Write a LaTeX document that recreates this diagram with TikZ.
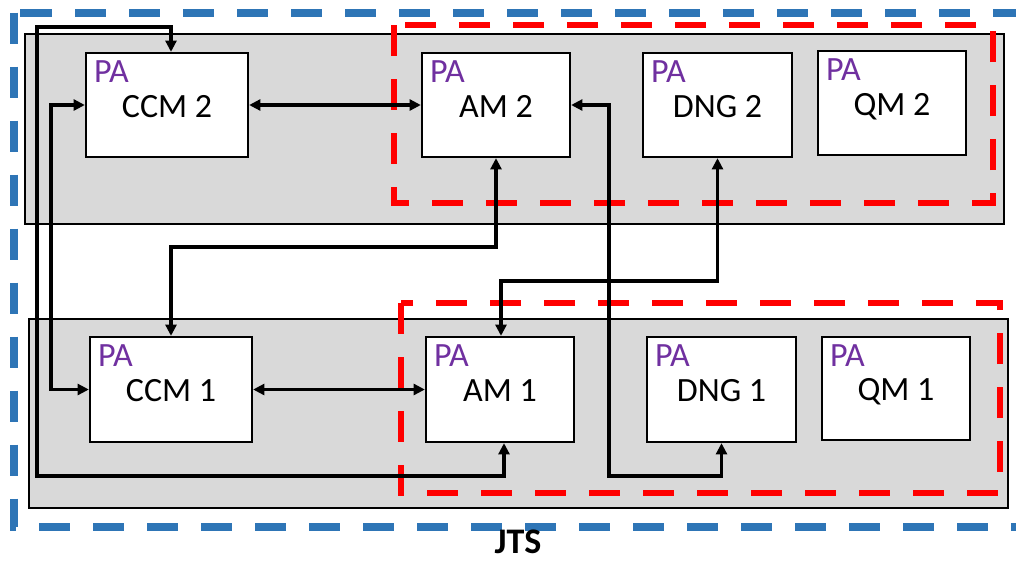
\documentclass[tikz,border=0pt]{standalone}
\usepackage{fontspec}
\setmainfont{Carlito}
\usetikzlibrary{arrows.meta,calc}
\definecolor{jtsblue}{HTML}{2E75B6}
\definecolor{pared}{HTML}{FF0000}
\definecolor{papurple}{HTML}{7030A0}
\definecolor{panelgray}{HTML}{D9D9D9}
\begin{document}
\begin{tikzpicture}[x=0.75pt,y=-0.75pt,
  panel/.style={draw=black,line width=1.4pt,fill=panelgray},
  bluebox/.style={draw=jtsblue,line width=6pt,dash pattern=on 23.25pt off 17.25pt},
  redbox/.style={draw=pared,line width=5pt,dash pattern=on 23.25pt off 17.25pt},
  module/.style={draw=black,line width=1.7pt,fill=white,rectangle,inner sep=0pt,
    font=\fontsize{25.5pt}{30pt}\selectfont,text height=18pt,text depth=0pt},
  palabel/.style={anchor=base west,inner sep=0pt,text=papurple,
    font=\fontsize{25.5pt}{30pt}\selectfont},
  conn/.style={line width=2.3pt,
    arrows={Triangle[length=8.5pt,width=8.25pt]-Triangle[length=8.5pt,width=8.25pt]}}
]
\useasboundingbox (0,0) rectangle (1016,562);

% panels
\draw[panel] (25,34) rectangle (1004,224);
\draw[panel] (29,319) rectangle (1008,508);

% dashed groupings
\draw[bluebox] (13.5,12.5) rectangle (1030,527);
\draw[redbox] (394,25) rectangle (993,203);
\draw[redbox] (401,303) rectangle (1000,493);

% modules, row 2
\node[module,minimum width=121.5pt,minimum height=78pt] (CCM2) at (167,105) {CCM 2};
\node[module,minimum width=111pt,minimum height=78pt] (AM2) at (496,105) {AM 2};
\node[module,minimum width=111.75pt,minimum height=78pt] (DNG2) at (717.5,105) {DNG 2};
\node[module,minimum width=111pt,minimum height=78pt] (QM2) at (892,103) {QM 2};
% modules, row 1
\node[module,minimum width=121.5pt,minimum height=78.75pt] (CCM1) at (171,389.5) {CCM 1};
\node[module,minimum width=111pt,minimum height=78.75pt] (AM1) at (500,389.5) {AM 1};
\node[module,minimum width=111.75pt,minimum height=78.75pt] (DNG1) at (721.5,389.5) {DNG 1};
\node[module,minimum width=111pt,minimum height=77.25pt] (QM1) at (896,388.5) {QM 1};

% PA labels
\foreach \m in {CCM2,AM2,DNG2,QM2,CCM1,AM1,DNG1,QM1}{
  \node[palabel] (PA\m) at ($(\m.north west)+(9,31)$) {PA};
}

% connectors
\draw[conn] (CCM2.east) -- (AM2.west);
\draw[conn] (CCM1.east) -- (AM1.west);
\draw[conn] (AM1.south -| 504,0) |- (37,476) |- (171,27) -- (CCM2.north -| 171,0);
\draw[conn] (CCM2.west) -| (51,250) |- (CCM1.west);
\draw[conn] (AM2.south) |- (171,247) -- (CCM1.north);
\draw[conn] (DNG2.south) |- (501,281) -- (AM1.north -| 501,0);
\draw[conn] (AM2.east) -| (609,476) -| (DNG1.south);

% label
\node[anchor=base,inner sep=0pt,font=\fontsize{27pt}{32pt}\selectfont\bfseries] (JTS) at (518,553) {JTS};
\end{tikzpicture}
\end{document}
